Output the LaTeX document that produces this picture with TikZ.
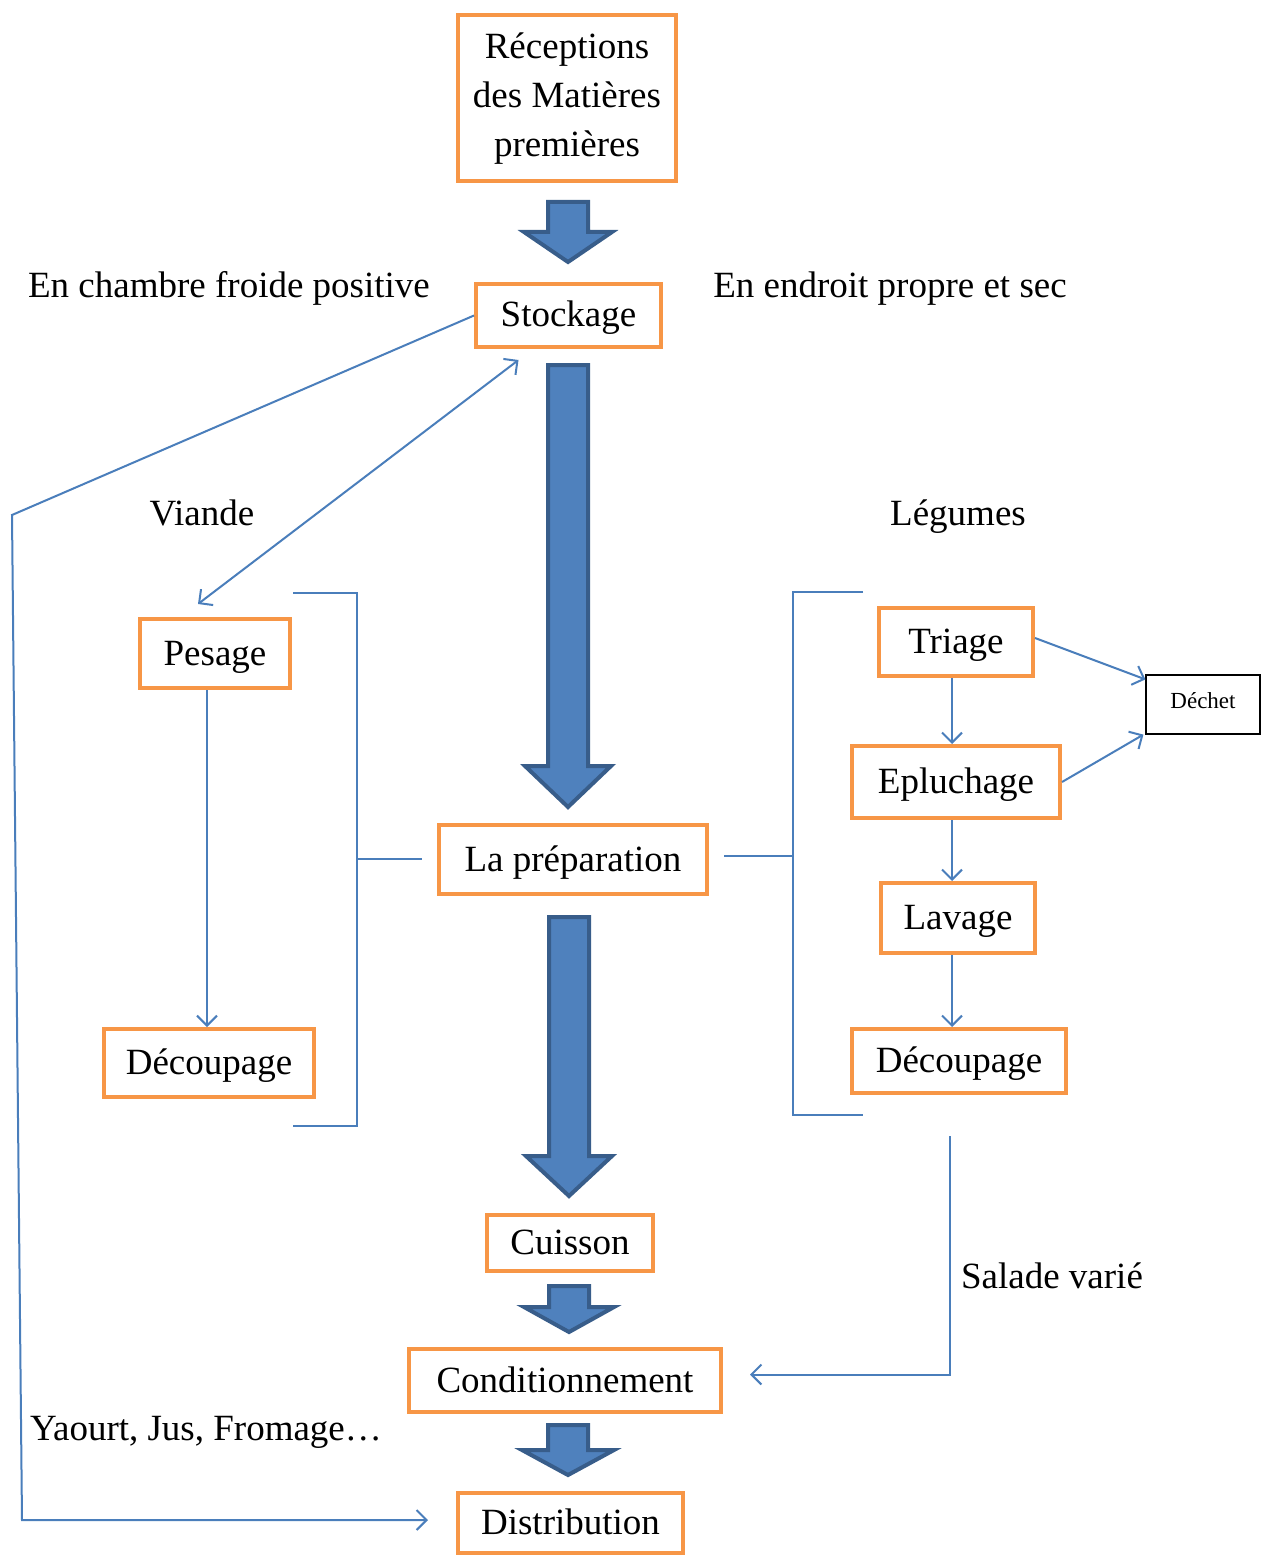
\documentclass[tikz,border=0pt]{standalone}
\usepackage{fontspec}
\setmainfont{Liberation Serif}
\usetikzlibrary{arrows.meta}
\definecolor{orng}{HTML}{F79646}
\definecolor{blu}{HTML}{4F81BD}
\definecolor{bluedark}{HTML}{385D8A}
\definecolor{thinblue}{HTML}{4A7EBB}
\newcommand\bigarr[6]{%
  \draw[bigarrowstyle] (#1-#5,#2) -- (#1+#5,#2) -- (#1+#5,#3) -- (#1+#6,#3) -- (#1,#4) -- (#1-#6,#3) -- (#1-#5,#3) -- cycle;}
\begin{document}
\begin{tikzpicture}[x=0.5pt,y=-0.5pt,
  box/.style={draw=orng, line width=2pt, rectangle, inner sep=0pt, fill=white,
    font=\fontsize{18.5}{24.5}\selectfont},
  sbox/.style={box, text height=15.5pt, text depth=4pt},
  lbl/.style={inner sep=0pt, anchor=base, font=\fontsize{18.5}{24.5}\selectfont},
  bigarrowstyle/.style={fill=blu, draw=bluedark, line width=2pt, line join=miter},
  thinln/.style={draw=thinblue, line width=1pt},
  arr/.style={thinln, -{Straight Barb[length=5pt,width=10pt]}},
  dblarr/.style={thinln, {Straight Barb[length=5pt,width=10pt]}-{Straight Barb[length=5pt,width=10pt]}}]
\useasboundingbox (0,0) rectangle (1270,1556);

% main column
\node[box, minimum width=109pt, minimum height=83pt] (rec) at (567,98)
  {\raisebox{-1.5pt}{\begin{tabular}{@{}c@{}}Réceptions\\des Matières\\premières\end{tabular}}};
\node[sbox, minimum width=92.5pt, minimum height=31.5pt] (stock) at (568.5,315.5) {Stockage};
\node[sbox, minimum width=134pt, minimum height=34.5pt] (prep) at (573,859.5) {La préparation};
\node[sbox, minimum width=83pt, minimum height=28pt] (cuis) at (570,1243) {Cuisson};
\node[sbox, minimum width=156pt, minimum height=31.5pt] (cond) at (565,1380.5) {Conditionnement};
\node[sbox, minimum width=112.5pt, minimum height=30pt] (dist) at (570.5,1523) {Distribution};

% left branch
\node[sbox, minimum width=75pt, minimum height=34.5pt] (pes) at (215,653.5) {Pesage};
\node[sbox, minimum width=105pt, minimum height=34pt] (decL) at (209,1063) {Découpage};

% right branch
\node[sbox, minimum width=77pt, minimum height=34pt] (tri) at (956,642) {Triage};
\node[sbox, minimum width=104pt, minimum height=36pt] (epl) at (956,782) {Epluchage};
\node[sbox, minimum width=77pt, minimum height=35pt] (lav) at (958,918) {Lavage};
\node[sbox, minimum width=107pt, minimum height=32pt] (decR) at (959,1061) {Découpage};
\node[draw=black, line width=0.6pt, rectangle, inner sep=0pt, minimum width=57pt, minimum height=29.5pt,
  font=\fontsize{11.5}{14}\selectfont] (dech) at (1203,704.5) {\raisebox{4pt}{Déchet}};

% labels
\node[lbl] (lfroid) at (229,298) {En chambre froide positive};
\node[lbl] (lsec) at (890,298) {En endroit propre et sec};
\node[lbl] (lviande) at (202,525) {Viande};
\node[lbl] (llegumes) at (958,525) {Légumes};
\node[lbl] (lsalade) at (1052,1288) {Salade varié};
\node[lbl] (lyaourt) at (206,1440) {Yaourt, Jus, Fromage…};

% big arrows
\bigarr{568}{202}{232}{262}{20}{44}
\bigarr{568}{365}{766}{807}{20}{43}
\bigarr{569}{917}{1156}{1196}{20}{43}
\bigarr{569}{1286}{1307}{1332}{20}{45}
\bigarr{568}{1425}{1450}{1475}{20}{46}

% thin connectors
\draw[arr] ([xshift=-4pt]pes.south) -- ([xshift=-1pt]decL.north);
\draw[arr] ([xshift=-2pt]tri.south) -- ([xshift=-2pt]epl.north);
\draw[arr] ([xshift=-2pt]epl.south) -- ([xshift=-3pt]lav.north);
\draw[arr] ([xshift=-3pt]lav.south) -- ([xshift=-3.5pt]decR.north);
\draw[arr] ([yshift=2pt]tri.east) -- ([yshift=-2.5pt]dech.north west);
\draw[arr] (epl.east) -- ([xshift=-1pt]dech.south west);
\draw[dblarr] ([xshift=-25pt,yshift=-5.5pt]stock.south) -- ([xshift=-8.5pt,yshift=6.5pt]pes.north);

\coordinate (c1) at (12,515);
\coordinate (c2) at (22,1520);
\draw[arr] (stock.west) -- (c1) -- (c2) -- ([xshift=-14pt,yshift=1.5pt]dist.west);

\coordinate (s1) at (950,1136);
\draw[arr] (s1) |- ([xshift=13.5pt,yshift=3pt]cond.east);

% brackets
\coordinate (bl1) at (293,593);
\coordinate (bl2) at (357,593);
\coordinate (bl3) at (357,1126);
\coordinate (bl4) at (293,1126);
\coordinate (blm) at (357,859);
\draw[thinln] (bl1) -- (bl2) -- (bl3) -- (bl4);
\draw[thinln] (blm) -- ([xshift=-7.5pt]prep.west |- blm);

\coordinate (br1) at (863,592);
\coordinate (br2) at (793,592);
\coordinate (br3) at (793,1115);
\coordinate (br4) at (863,1115);
\coordinate (brm) at (793,856);
\draw[thinln] (br1) -- (br2) -- (br3) -- (br4);
\draw[thinln] ([xshift=7.5pt]prep.east |- brm) -- (brm);
\end{tikzpicture}
\end{document}
